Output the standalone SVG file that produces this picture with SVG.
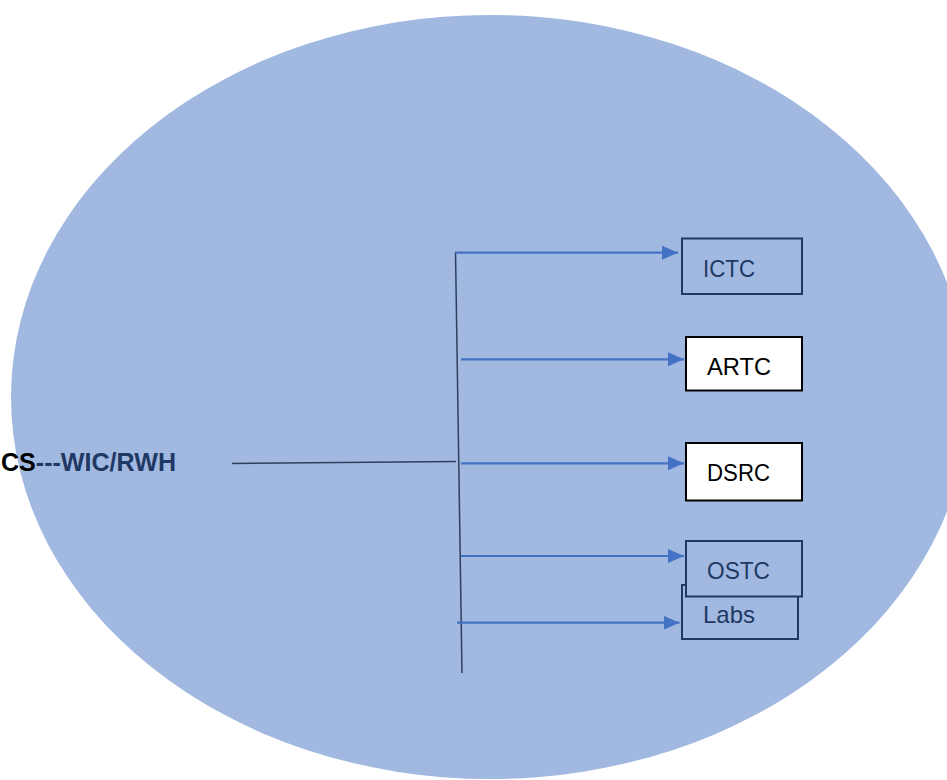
<svg xmlns="http://www.w3.org/2000/svg" width="947" height="780" viewBox="0 0 947 780">
<style>
.navy{fill:none;stroke:#1F3864;stroke-width:2}
.navyf{fill:#A1B8E0;stroke:#1F3864;stroke-width:2}
.white{fill:#FFFFFF;stroke:#000000;stroke-width:2}
.t{font-family:"Liberation Sans",Arial,sans-serif;font-size:24px}
.tn{fill:#1F3864}
.tb{fill:#000000}
.arr{fill:none;stroke:#4472C4;stroke-width:2.2}
.ln{fill:none;stroke:#2E3F5E;stroke-width:1.5}
</style>
<defs>
<marker id="ah" markerUnits="userSpaceOnUse" markerWidth="16" markerHeight="14" refX="16" refY="7" orient="auto">
<polygon points="0,0 16,7 0,14" fill="#4472C4"/>
</marker>
</defs>
<rect width="947" height="780" fill="#FFFFFF"/>
<g id="background">
<ellipse cx="490" cy="397" rx="479" ry="382" fill="#A1B8E0"/>
</g>
<g id="connectors">
<line class="ln" x1="455.5" y1="252" x2="462" y2="673"/>
<line class="ln" x1="232" y1="463.5" x2="456" y2="461.5"/>
<line class="arr" x1="455" y1="252.7" x2="678" y2="252.7" marker-end="url(#ah)"/>
<line class="arr" x1="461" y1="359.3" x2="684" y2="359.3" marker-end="url(#ah)"/>
<line class="arr" x1="461" y1="463.3" x2="684" y2="463.3" marker-end="url(#ah)"/>
<line class="arr" x1="461" y1="556" x2="684" y2="556" marker-end="url(#ah)"/>
<line class="arr" x1="457" y1="622.7" x2="679.5" y2="622.7" marker-end="url(#ah)"/>
</g>
<g id="source">
<text x="1" y="471" textLength="175" lengthAdjust="spacingAndGlyphs" font-family="'Liberation Sans',Arial,sans-serif" font-size="25" font-weight="bold" fill="#1F3864"><tspan fill="#000000">CS</tspan>---WIC/RWH</text>
</g>
<g id="ictc">
<rect class="navy" x="682" y="238.5" width="120" height="55.5"/>
<text class="t tn" x="703" y="277" textLength="52" lengthAdjust="spacingAndGlyphs">ICTC</text>
</g>
<g id="artc">
<rect class="white" x="686" y="337" width="116" height="53.5"/>
<text class="t tb" x="707" y="375" textLength="64" lengthAdjust="spacingAndGlyphs">ARTC</text>
</g>
<g id="dsrc">
<rect class="white" x="686" y="443" width="116" height="57.5"/>
<text class="t tb" x="707" y="481" textLength="63" lengthAdjust="spacingAndGlyphs">DSRC</text>
</g>
<g id="labs">
<rect class="navy" x="682" y="585" width="116" height="54"/>
<text class="t tn" x="703" y="623" textLength="52" lengthAdjust="spacingAndGlyphs">Labs</text>
</g>
<g id="ostc">
<rect class="navyf" x="686" y="541" width="116" height="55.5"/>
<text class="t tn" x="707" y="579" textLength="63" lengthAdjust="spacingAndGlyphs">OSTC</text>
</g>
</svg>
